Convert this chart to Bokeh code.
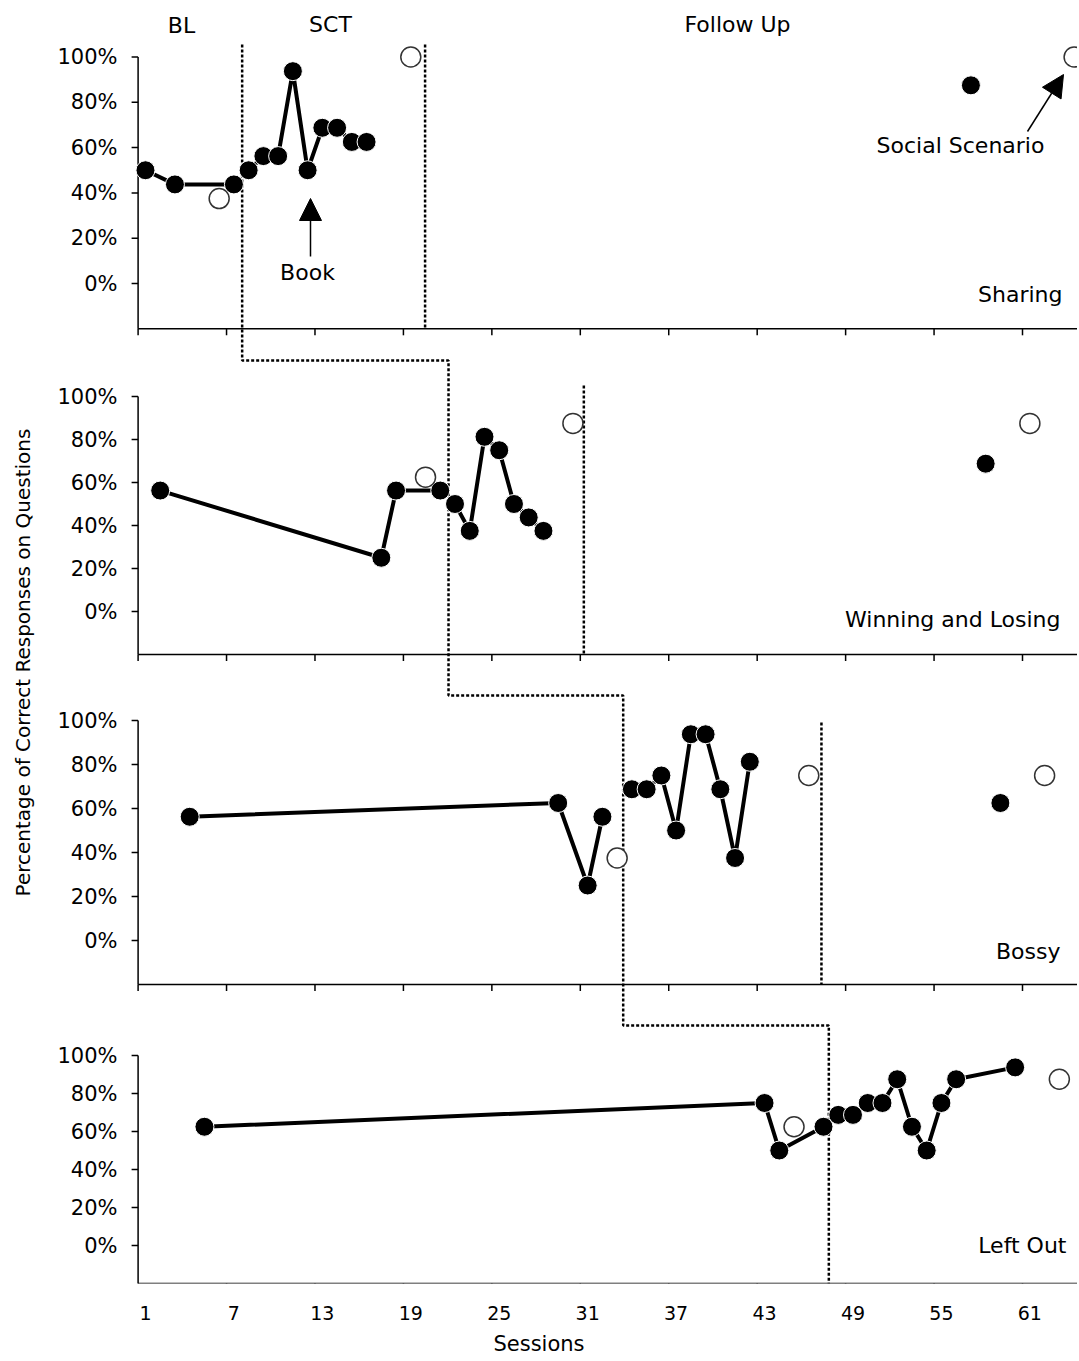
import math
from bokeh.plotting import figure
from bokeh.models import Range1d, FixedTicker, Arrow, NormalHead
from bokeh.core.properties import value
from bokeh.embed import file_html
from bokeh.resources import INLINE

# ---------------- data ----------------
panel_names = ["Sharing", "Winning and Losing", "Bossy", "Left Out"]
phase_names = ["BL", "SCT", "Follow Up"]
y_title = "Percentage of Correct Responses on Questions"
x_title = "Sessions"
book_label = "Book"
scenario_label = "Social Scenario"

y_tick_values = [0, 20, 40, 60, 80, 100]
y_tick_labels = ["0%", "20%", "40%", "60%", "80%", "100%"]
x_tick_sessions = [1, 7, 13, 19, 25, 31, 37, 43, 49, 55, 61]
x_tick_labels = ["1", "7", "13", "19", "25", "31", "37", "43", "49", "55", "61"]

sharing_bl_sessions = [1, 3, 7]
sharing_bl_values = [50, 43.75, 43.75]
sharing_sct_sessions = [8, 9, 10, 11, 12, 13, 14, 15, 16]
sharing_sct_values = [50, 56.25, 56.25, 93.75, 50, 68.75, 68.75, 62.5, 62.5]
sharing_fu_sessions = [57]
sharing_fu_values = [87.5]
sharing_social_sessions = [6, 19, 64]
sharing_social_values = [37.5, 100, 100]

winning_bl_sessions = [2, 17, 18, 21]
winning_bl_values = [56.25, 25, 56.25, 56.25]
winning_sct_sessions = [22, 23, 24, 25, 26, 27, 28]
winning_sct_values = [50, 37.5, 81.25, 75, 50, 43.75, 37.5]
winning_fu_sessions = [58]
winning_fu_values = [68.75]
winning_social_sessions = [20, 30, 61]
winning_social_values = [62.5, 87.5, 87.5]

bossy_bl_sessions = [4, 29, 31, 32]
bossy_bl_values = [56.25, 62.5, 25, 56.25]
bossy_sct_sessions = [34, 35, 36, 37, 38, 39, 40, 41, 42]
bossy_sct_values = [68.75, 68.75, 75, 50, 93.75, 93.75, 68.75, 37.5, 81.25]
bossy_fu_sessions = [59]
bossy_fu_values = [62.5]
bossy_social_sessions = [33, 46, 62]
bossy_social_values = [37.5, 75, 75]

leftout_bl_sessions = [5, 43, 44, 47]
leftout_bl_values = [62.5, 75, 50, 62.5]
leftout_sct_sessions = [48, 49, 50, 51, 52, 53, 54, 55, 56, 60]
leftout_sct_values = [68.75, 68.75, 75, 75, 87.5, 62.5, 50, 75, 87.5, 93.75]
leftout_fu_sessions = []
leftout_fu_values = []
leftout_social_sessions = [45, 63]
leftout_social_values = [62.5, 87.5]

# phase-change lines (session positions)
phase_bl_to_sct = [7.56, 21.56, 33.41, 47.36]
phase_sct_to_fu = [19.97, 30.74, 46.86]

panels = [
    dict(bl=(sharing_bl_sessions, sharing_bl_values), sct=(sharing_sct_sessions, sharing_sct_values),
         fu=(sharing_fu_sessions, sharing_fu_values), social=(sharing_social_sessions, sharing_social_values)),
    dict(bl=(winning_bl_sessions, winning_bl_values), sct=(winning_sct_sessions, winning_sct_values),
         fu=(winning_fu_sessions, winning_fu_values), social=(winning_social_sessions, winning_social_values)),
    dict(bl=(bossy_bl_sessions, bossy_bl_values), sct=(bossy_sct_sessions, bossy_sct_values),
         fu=(bossy_fu_sessions, bossy_fu_values), social=(bossy_social_sessions, bossy_social_values)),
    dict(bl=(leftout_bl_sessions, leftout_bl_values), sct=(leftout_sct_sessions, leftout_sct_values),
         fu=(leftout_fu_sessions, leftout_fu_values), social=(leftout_social_sessions, leftout_social_values)),
]

# ---------------- layout (page pixels) ----------------
FIG_W, FIG_H = 1077, 1359
PAGE = 0
FRAME_L, FRAME_R = 0, 1077
FRAME_T, FRAME_B = 10, 1283
X0_PX, PX_PER_SESSION = 137.6, 14.74          # page x of session 0.5, px per session
PANEL_PX = [(56.5, 283.0), (396.0, 611.0), (720.0, 940.0), (1055.0, 1245.0)]  # page y of 100% and 0%
Y_MIN, Y_MAX = -20, 100
TICK_PX = 6.5
STAIR_TOP = 44
STAIR_Y = [360, 695, 1025]
PHASE2_TOP = [44, 385, 722]
YLABEL_RIGHT = 117
NAME_POS = [(1062, 294), (1060, 619), (1060, 951), (1066, 1245)]
PHASE_LABEL_POS = [(181, 25), (330, 24), (737, 24)]
BOOK_POS = (307, 272)
SCEN_POS = (960, 145)
YTITLE_POS = (22, 662)

FONT = value("DejaVu Sans")
INK = "black"

s_start = 0.5 + (FRAME_L - X0_PX) / PX_PER_SESSION
s_end = 0.5 + (FRAME_R - X0_PX) / PX_PER_SESSION

p = figure(width=FIG_W, height=FIG_H, output_backend="svg", toolbar_location=None,
           x_range=Range1d(s_start, s_end), y_range=Range1d(FRAME_B, FRAME_T),
           y_axis_location=None,
           min_border_left=FRAME_L - PAGE, min_border_right=0,
           min_border_top=FRAME_T - PAGE, min_border_bottom=FIG_H - (FRAME_B - PAGE))
p.extra_x_ranges = {"px": Range1d(FRAME_L, FRAME_R)}
ranges = {}
for k, (p100, p0) in enumerate(PANEL_PX):
    u = (p0 - p100) / 100.0
    ranges[f"p{k}"] = Range1d(-(FRAME_B - p0) / u, 100 + (p100 - FRAME_T) / u)
p.extra_y_ranges = ranges
p.grid.visible = False
p.outline_line_color = None
p.background_fill_color = "white"
p.border_fill_color = "white"

# bottom axis: labels only
ax = p.xaxis[0]
ax.ticker = FixedTicker(ticks=x_tick_sessions)
ax.major_label_overrides = {s: l for s, l in zip(x_tick_sessions, x_tick_labels)}
ax.axis_line_color = None
ax.major_tick_in = 0
ax.major_tick_out = 0
ax.minor_tick_out = 0
ax.major_label_standoff = 22
ax.major_label_text_font = "DejaVu Sans"
ax.major_label_text_font_size = "19px"
ax.major_label_text_color = INK
ax.axis_label = x_title
ax.axis_label_standoff = 9
ax.axis_label_text_font = "DejaVu Sans"
ax.axis_label_text_font_style = "normal"
ax.axis_label_text_font_size = "21px"
ax.axis_label_text_color = INK

axis_x = x_tick_sessions[0] - 0.5
bounds = [s - 0.5 for s in x_tick_sessions]

# phase change lines (dotted)
stair_x, stair_y = [], []
for i, xs in enumerate(phase_bl_to_sct):
    top = STAIR_TOP if i == 0 else STAIR_Y[i - 1]
    bot = STAIR_Y[i] if i < len(STAIR_Y) else FRAME_B
    stair_x += [xs, xs]
    stair_y += [top, bot]
p.line(stair_x, stair_y, line_color=INK, line_width=2.5, line_dash="3 2")
for k, xs in enumerate(phase_sct_to_fu):
    p100, p0 = PANEL_PX[k]
    axis_page = p0 + (0 - Y_MIN) * (p0 - p100) / 100.0
    p.segment(x0=[xs], y0=[PHASE2_TOP[k]], x1=[xs], y1=[axis_page],
              line_color=INK, line_width=2.5, line_dash="3 2")

for k, panel in enumerate(panels):
    rn = f"p{k}"
    p100, p0 = PANEL_PX[k]
    u = (p0 - p100) / 100.0
    # axes
    p.segment(x0=[axis_x], y0=[Y_MIN], x1=[axis_x], y1=[Y_MAX], y_range_name=rn,
              line_color=INK, line_width=1.5)
    p.segment(x0=[axis_x], y0=[Y_MIN], x1=[s_end + 1], y1=[Y_MIN], y_range_name=rn,
              line_color=INK, line_width=1.5)
    p.segment(x0=bounds, y0=[Y_MIN] * len(bounds), x1=bounds,
              y1=[Y_MIN - TICK_PX / u] * len(bounds), y_range_name=rn,
              line_color=INK, line_width=1.5)
    p.segment(x0=[axis_x - TICK_PX / PX_PER_SESSION] * len(y_tick_values), y0=y_tick_values,
              x1=[axis_x] * len(y_tick_values), y1=y_tick_values, y_range_name=rn,
              line_color=INK, line_width=1.5)
    p.text(x=[YLABEL_RIGHT] * len(y_tick_values), y=y_tick_values, text=y_tick_labels,
           x_range_name="px", y_range_name=rn, text_align="right", text_baseline="middle",
           text_font=FONT, text_font_size=value("21px"), text_color=INK)
    # data
    for key in ("bl", "sct"):
        xs, ys = panel[key]
        p.line(xs, ys, y_range_name=rn, line_color=INK, line_width=4)
    filled_x = panel["bl"][0] + panel["sct"][0] + panel["fu"][0]
    filled_y = panel["bl"][1] + panel["sct"][1] + panel["fu"][1]
    p.scatter(filled_x, filled_y, y_range_name=rn, marker="circle", size=19,
              fill_color=INK, line_color="white", line_width=1)
    sx, sy = panel["social"]
    p.scatter(sx, sy, y_range_name=rn, marker="circle", size=20,
              fill_color="white", line_color="#333333", line_width=1.5)
    # panel name
    nx, ny = NAME_POS[k]
    p.text(x=[nx], y=[ny], text=[panel_names[k]], x_range_name="px",
           text_align="right", text_baseline="middle",
           text_font=FONT, text_font_size=value("22px"), text_color=INK)

# phase labels
p.text(x=[q[0] for q in PHASE_LABEL_POS], y=[q[1] for q in PHASE_LABEL_POS], text=phase_names,
       x_range_name="px", text_align="center", text_baseline="middle",
       text_font=FONT, text_font_size=value("22px"), text_color=INK)

# annotations
p.text(x=[BOOK_POS[0], SCEN_POS[0]], y=[BOOK_POS[1], SCEN_POS[1]], text=[book_label, scenario_label],
       x_range_name="px", text_align="center", text_baseline="middle",
       text_font=FONT, text_font_size=value("22px"), text_color=INK)
p.add_layout(Arrow(end=NormalHead(size=22, fill_color=INK, line_color=INK),
                   x_start=310, y_start=256, x_end=310, y_end=198,
                   x_range_name="px", line_color=INK, line_width=1.5))
p.add_layout(Arrow(end=NormalHead(size=22, fill_color=INK, line_color=INK),
                   x_start=1027, y_start=131, x_end=1063, y_end=74,
                   x_range_name="px", line_color=INK, line_width=1.5))

# y title
p.text(x=[YTITLE_POS[0]], y=[YTITLE_POS[1]], text=[y_title], angle=math.pi / 2,
       x_range_name="px", text_align="center", text_baseline="middle",
       text_font=FONT, text_font_size=value("20px"), text_color=INK)

open("out.html", "w").write(file_html(p, INLINE))
